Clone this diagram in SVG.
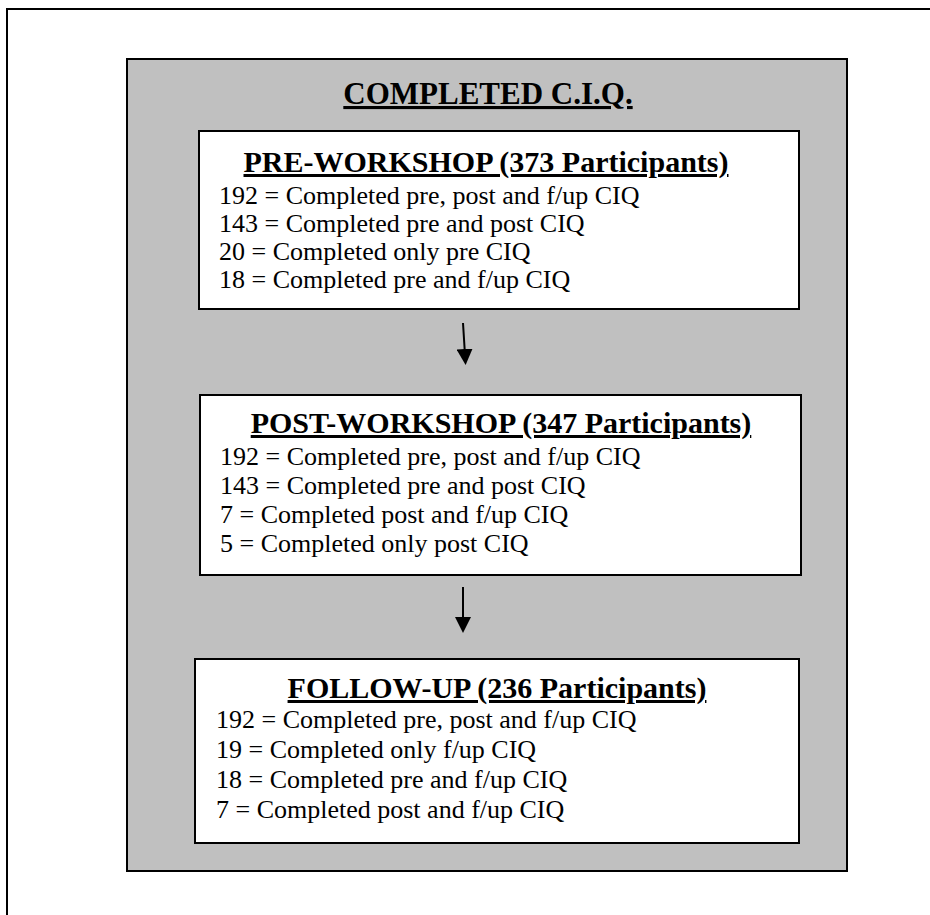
<svg xmlns="http://www.w3.org/2000/svg" width="930" height="915" viewBox="0 0 930 915">
  <style>
    .frame { fill: #ffffff; stroke: #000000; stroke-width: 2; }
    .panel { fill: #c0c0c0; stroke: #000000; stroke-width: 2; }
    .box { fill: #ffffff; stroke: #000000; stroke-width: 2; }
    .title { font-family: "Liberation Serif", "Times New Roman", serif; font-weight: bold; font-size: 31px; text-decoration: underline; text-decoration-thickness: 3px; fill: #000; }
    .head { font-family: "Liberation Serif", "Times New Roman", serif; font-weight: bold; font-size: 30px; text-decoration: underline; text-decoration-thickness: 2px; fill: #000; }
    .body { font-family: "Liberation Serif", "Times New Roman", serif; font-size: 26px; fill: #000; }
    .conn { stroke: #000000; stroke-width: 2; fill: none; }
  </style>
  <defs>
    <marker id="arrow" markerUnits="userSpaceOnUse" markerWidth="16" markerHeight="16" refX="6" refY="8" orient="auto">
      <path d="M0,0 L16,8 L0,16 z" fill="#000000"/>
    </marker>
  </defs>

  <rect class="frame" x="7" y="9" width="1000" height="1000"/>

  <g id="panel">
    <rect class="panel" x="127" y="59" width="720" height="812"/>
    <text class="title" x="488" y="104" text-anchor="middle">COMPLETED C.I.Q.</text>
  </g>

  <g id="pre">
    <rect class="box" x="199" y="131" width="600" height="178"/>
    <text class="head" x="486" y="172" text-anchor="middle">PRE-WORKSHOP (373 Participants)</text>
    <text class="body" x="219" y="204">192 = Completed pre, post and f/up CIQ</text>
    <text class="body" x="219" y="232">143 = Completed pre and post CIQ</text>
    <text class="body" x="219" y="260">20 = Completed only pre CIQ</text>
    <text class="body" x="219" y="288">18 = Completed pre and f/up CIQ</text>
  </g>

  <g id="post">
    <rect class="box" x="200" y="395" width="601" height="180"/>
    <text class="head" x="501" y="433" text-anchor="middle">POST-WORKSHOP (347 Participants)</text>
    <text class="body" x="220" y="465">192 = Completed pre, post and f/up CIQ</text>
    <text class="body" x="220" y="494">143 = Completed pre and post CIQ</text>
    <text class="body" x="220" y="523">7 = Completed post and f/up CIQ</text>
    <text class="body" x="220" y="552">5 = Completed only post CIQ</text>
  </g>

  <g id="followup">
    <rect class="box" x="195" y="659" width="604" height="184"/>
    <text class="head" x="497" y="698" text-anchor="middle">FOLLOW-UP (236 Participants)</text>
    <text class="body" x="216" y="728">192 = Completed pre, post and f/up CIQ</text>
    <text class="body" x="216" y="758">19 = Completed only f/up CIQ</text>
    <text class="body" x="216" y="788">18 = Completed pre and f/up CIQ</text>
    <text class="body" x="216" y="818">7 = Completed post and f/up CIQ</text>
  </g>

  <g id="connectors">
    <line class="conn" x1="463" y1="323" x2="465" y2="355" marker-end="url(#arrow)"/>
    <line class="conn" x1="463" y1="587" x2="463" y2="623" marker-end="url(#arrow)"/>
  </g>
</svg>
